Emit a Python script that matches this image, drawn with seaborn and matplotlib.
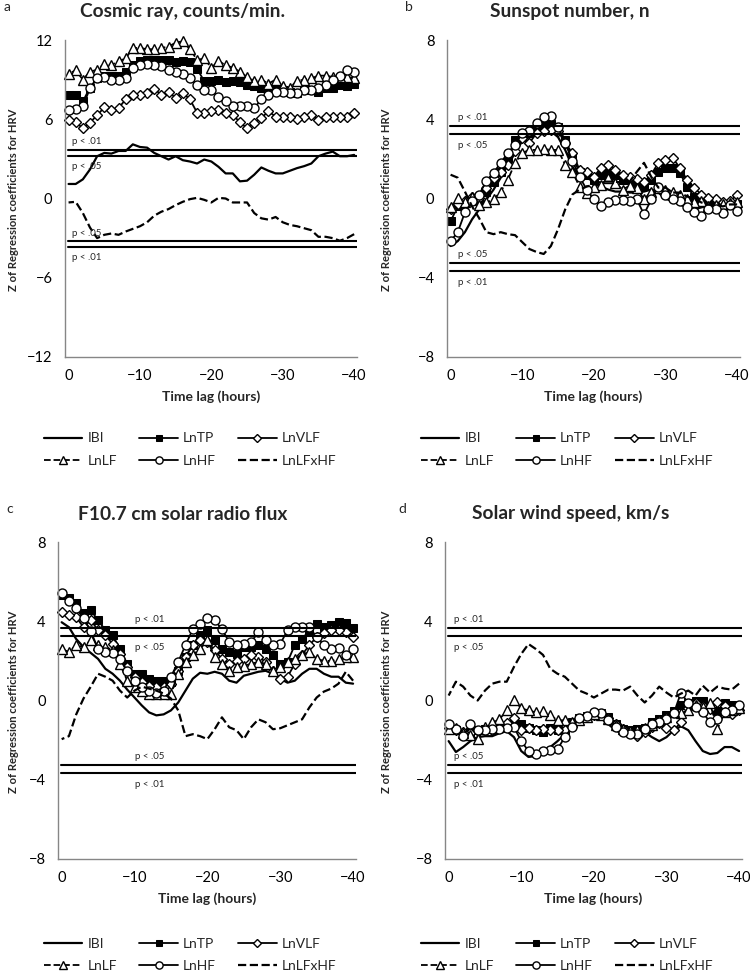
import seaborn as sns
import matplotlib.pyplot as plt

sns.set_style("white")
plt.rcParams['font.family'] = ['Lato', 'DejaVu Sans']

lags = list(range(0, -41, -1))
names = ["IBI", "LnTP", "LnVLF", "LnLF", "LnHF", "LnLFxHF"]

# a - cosmic ray
cr_ibi = [1.1, 1.1, 1.45, 2.2, 3.2, 3.45, 3.4, 3.6, 3.6, 4.1, 3.9, 3.85, 3.45, 3.2, 2.95, 3.2, 2.9, 2.8, 2.65, 2.95,
          2.8, 2.4, 1.9, 1.9, 1.3, 1.35, 1.8, 2.35, 2.1, 1.9, 1.9, 2.1, 2.3, 2.45, 2.65, 3.2, 3.4, 3.55, 3.2, 3.2, 3.3]
cr_tp = [7.85, 7.85, 7.35, 8.4, 9.1, 9.25, 9.3, 9.3, 9.6, 10.1, 10.4, 10.5, 10.5, 10.5, 10.5, 10.3, 10.4, 10.3, 9.8, 8.9,
         8.9, 9.0, 8.8, 8.9, 8.8, 8.6, 8.5, 8.4, 8.3, 8.2, 8.2, 8.1, 8.0, 8.2, 8.2, 8.1, 8.4, 8.4, 8.6, 8.5, 8.7]
cr_vlf = [5.95, 5.8, 5.3, 5.75, 6.3, 6.9, 6.7, 6.85, 7.5, 7.85, 7.85, 8.0, 8.3, 7.85, 8.1, 7.6, 8.0, 7.5, 6.5, 6.5,
          6.6, 6.7, 6.5, 6.3, 5.8, 5.3, 5.7, 6.1, 6.6, 6.2, 6.2, 6.2, 6.0, 6.2, 6.3, 5.95, 6.2, 6.2, 6.2, 6.2, 6.45]
cr_lf = [9.45, 9.7, 9.0, 9.6, 9.75, 10.2, 10.1, 10.4, 10.6, 11.4, 11.4, 11.3, 11.3, 11.4, 11.5, 11.8, 11.9, 11.3, 10.5, 10.6,
         9.9, 10.4, 10.1, 9.9, 9.6, 9.2, 8.9, 9.0, 8.7, 9.0, 8.5, 8.4, 8.9, 9.0, 9.1, 9.3, 9.3, 9.2, 9.2, 9.2, 9.1]
cr_hf = [6.7, 6.75, 6.97, 8.35, 9.1, 9.2, 9.0, 9.0, 9.1, 9.9, 10.1, 10.2, 10.1, 10.0, 9.7, 9.6, 9.45, 9.1, 8.6, 8.2,
         8.2, 7.7, 7.35, 7.0, 6.97, 6.97, 6.85, 7.5, 7.85, 8.1, 8.1, 8.0, 8.0, 8.2, 8.2, 8.4, 8.6, 9.0, 9.3, 9.7, 9.55]
cr_lfhf = [-0.3, -0.25, -1.1, -2.2, -3.0, -2.75, -2.65, -2.75, -2.5, -2.3, -2.1, -1.8, -1.3, -1.0, -0.8, -0.5, -0.25, -0.05,
           0.05, -0.1, -0.3, 0.05, 0.0, -0.3, -0.3, -0.3, -1.1, -1.5, -1.6, -1.4, -1.8, -2.0, -2.1, -2.25, -2.4, -2.9,
           -2.9, -3.0, -3.2, -3.0, -2.7]

# b - sunspot number
ss_ibi = [-2.4, -2.15, -1.7, -1.05, -0.55, -0.05, 0.45, 1.05, 1.7, 2.3, 2.9, 3.1, 3.4, 3.45, 3.4, 3.1, 2.45, 1.6, 1.1,
          1.05, 0.85, 0.6, 0.45, 0.35, 0.35, 0.3, 0.3, 0.35, 0.45, 0.3, 0.0, -0.15, -0.3, -0.45, -0.55, -0.45, -0.35,
          -0.4, -0.4, -0.45, -0.55]
ss_tp = [-1.15, -0.4, -0.25, -0.15, -0.05, 0.35, 0.85, 1.35, 2.05, 2.95, 3.1, 3.3, 3.55, 3.7, 3.75, 3.6, 2.95, 2.05, 1.35,
         1.2, 0.95, 1.2, 1.3, 1.2, 0.95, 0.95, 0.85, 0.65, 0.95, 1.35, 1.55, 1.55, 1.3, 0.6, 0.1, -0.15, -0.2, -0.4,
         -0.4, -0.35, -0.3]
ss_vlf = [-0.55, -0.3, -0.15, 0.1, 0.05, 0.55, 1.05, 1.35, 1.7, 2.4, 3.05, 2.8, 3.3, 3.4, 3.45, 3.4, 2.8, 2.3, 1.45,
          1.35, 1.1, 1.55, 1.7, 1.45, 1.2, 1.1, 1.0, 0.85, 1.2, 1.8, 1.95, 2.05, 1.55, 0.95, 0.55, 0.2, 0.05, -0.05,
          -0.2, -0.15, 0.2]
ss_lf = [-0.45, 0.05, -0.2, 0.1, -0.35, -0.2, -0.05, 0.35, 0.95, 1.8, 2.3, 2.45, 2.45, 2.5, 2.45, 2.45, 1.7, 1.35, 0.6,
         0.3, 0.6, 0.7, 1.05, 0.8, 0.45, 0.65, 0.55, -0.05, 0.35, 0.55, 0.45, 0.35, 0.2, -0.05, -0.2, -0.15, -0.4,
         -0.35, -0.3, -0.25, -0.2]
ss_hf = [-2.15, -1.7, -0.7, -0.15, 0.2, 0.9, 1.3, 1.8, 2.3, 2.7, 3.3, 3.4, 3.8, 4.1, 4.15, 3.6, 2.8, 1.9, 1.1, 0.45,
         -0.05, -0.4, -0.2, -0.1, -0.1, -0.15, -0.05, -0.8, -0.05, 0.6, 0.2, -0.05, -0.15, -0.45, -0.7, -0.9, -0.55,
         -0.55, -0.75, -0.35, -0.65]
ss_lfhf = [1.2, 1.05, 0.35, -0.4, -1.0, -1.7, -1.8, -1.7, -1.8, -1.85, -2.2, -2.55, -2.7, -2.8, -2.4, -1.55, -0.55, 0.2,
           0.45, 0.6, 0.7, 0.85, 0.85, 0.85, 0.8, 0.85, 1.35, 1.8, 1.1, 0.55, 0.55, 0.3, 0.3, 0.1, 0.0, -0.2, -0.3,
           -0.3, -0.4, -0.3, -0.3]

# c - F10.7 solar radio flux
rf_ibi = [3.95, 3.7, 3.1, 2.7, 2.4, 2.1, 1.6, 1.35, 1.0, 0.55, 0.15, -0.25, -0.6, -0.75, -0.7, -0.5, -0.1, 0.5, 1.1, 1.4,
          1.35, 1.45, 1.35, 1.0, 0.9, 1.25, 1.35, 1.45, 1.5, 1.35, 1.1, 0.9, 1.0, 1.35, 1.6, 1.6, 1.35, 1.2, 1.2, 0.9,
          0.85]
rf_tp = [5.3, 5.15, 4.9, 4.4, 4.55, 4.05, 3.55, 3.3, 2.6, 1.85, 1.35, 1.35, 1.1, 1.0, 1.0, 0.95, 1.5, 2.2, 2.8, 3.3,
         3.55, 3.05, 2.6, 2.45, 2.35, 2.7, 2.7, 2.8, 2.6, 2.3, 1.85, 1.95, 2.8, 3.1, 3.55, 3.85, 3.7, 3.8, 3.95, 3.9,
         3.65]
rf_vlf = [4.45, 4.3, 4.2, 3.7, 4.05, 3.55, 3.3, 2.85, 2.35, 1.7, 1.2, 0.95, 0.75, 0.7, 0.7, 0.85, 1.5, 2.2, 2.8, 3.05,
          2.95, 2.55, 2.1, 1.85, 2.0, 2.1, 2.3, 2.2, 1.95, 1.5, 1.1, 1.2, 1.85, 2.3, 2.8, 3.2, 3.4, 3.55, 3.55, 3.45,
          3.2]
rf_lf = [2.6, 2.45, 2.8, 2.7, 3.05, 2.8, 2.7, 2.55, 1.85, 1.0, 0.7, 0.5, 0.35, 0.35, 0.35, 0.35, 1.35, 1.95, 2.3, 2.6,
         3.05, 2.2, 1.85, 1.5, 1.7, 1.75, 1.85, 1.95, 1.85, 1.5, 1.7, 1.95, 2.1, 2.3, 2.45, 2.1, 2.0, 2.0, 2.1, 2.2,
         2.2]
rf_hf = [5.45, 5.0, 4.65, 4.15, 3.5, 2.6, 2.45, 2.4, 2.1, 1.5, 1.0, 0.7, 0.5, 0.4, 0.5, 1.2, 1.95, 2.8, 3.6, 3.85, 4.15,
         4.05, 3.6, 2.95, 2.8, 2.85, 2.95, 3.45, 3.05, 2.8, 2.85, 3.55, 3.7, 3.7, 3.7, 3.2, 2.8, 2.6, 2.65, 2.3, 2.6]
rf_lfhf = [-1.95, -1.8, -0.7, 0.1, 0.7, 1.35, 1.2, 1.0, 0.5, 0.15, 0.5, 0.7, 0.6, 0.5, 0.35, 0.1, -0.5, -1.8, -1.7,
           -1.8, -1.95, -1.45, -0.85, -1.35, -1.5, -1.95, -1.35, -0.95, -1.1, -1.45, -1.4, -1.25, -1.1, -0.95, -0.35,
           0.15, 0.45, 0.6, 0.85, 1.45, 1.0]

# d - solar wind speed
sw_ibi = [-2.05, -2.6, -2.35, -2.05, -1.85, -1.8, -1.8, -1.65, -1.55, -1.85, -2.55, -2.85, -2.8, -2.6, -2.35, -2.05,
          -1.7, -1.25, -1.0, -0.85, -0.75, -0.9, -1.2, -1.5, -1.7, -1.8, -1.7, -1.6, -1.85, -2.05, -1.85, -1.5, -1.3,
          -1.5, -2.05, -2.55, -2.7, -2.65, -2.35, -2.35, -2.55]
sw_tp = [-1.45, -1.5, -1.75, -1.6, -1.5, -1.45, -1.45, -1.4, -1.3, -1.2, -1.2, -1.4, -1.5, -1.6, -1.4, -1.5, -1.6, -1.1,
         -0.9, -0.8, -0.7, -0.65, -0.85, -1.2, -1.45, -1.5, -1.45, -1.4, -1.1, -0.95, -0.75, -0.55, -0.25, -0.15, 0.0,
         -0.05, -0.3, -0.55, -0.15, -0.25, -0.4]
sw_vlf = [-1.4, -1.5, -1.6, -1.65, -1.55, -1.45, -1.5, -1.4, -1.15, -0.9, -1.5, -1.4, -1.5, -1.45, -1.5, -1.5, -1.5,
          -1.2, -1.0, -0.85, -0.75, -0.75, -0.9, -1.2, -1.45, -1.6, -1.8, -1.6, -1.35, -1.15, -1.4, -1.5, -1.1, -0.4,
          -0.15, -0.3, -0.45, -0.1, -0.3, -0.7, -0.5]
sw_lf = [-1.45, -1.4, -1.65, -1.75, -1.95, -1.35, -1.1, -0.95, -0.5, 0.05, -0.4, -0.5, -0.6, -0.55, -0.75, -1.0, -1.0,
         -1.1, -1.0, -0.85, -0.7, -0.75, -0.95, -1.25, -1.45, -1.55, -1.5, -1.4, -1.25, -1.0, -0.85, -0.6, -0.65,
         -0.5, -0.25, -0.35, -0.15, -1.45, -0.6, -0.5, -0.4]
sw_hf = [-1.2, -1.45, -1.8, -1.2, -1.5, -1.5, -1.45, -1.45, -1.4, -1.35, -2.05, -2.55, -2.7, -2.55, -2.5, -2.45, -1.85,
         -1.35, -0.9, -0.8, -0.6, -0.65, -1.0, -1.35, -1.6, -1.7, -1.7, -1.45, -1.2, -1.1, -0.95, -0.65, 0.4, -0.15,
         -0.35, -0.6, -1.1, -0.95, -0.6, -0.5, -0.25]
sw_lfhf = [0.25, 0.95, 0.7, 0.25, 0.0, 0.5, 0.85, 0.95, 0.95, 1.7, 2.35, 2.85, 2.6, 2.3, 1.6, 1.35, 1.2, 0.85, 0.5,
           0.35, 0.15, 0.35, 0.55, 0.55, 0.5, 0.7, 0.25, -0.1, 0.25, 0.7, 0.4, 0.15, 0.35, 0.5, 0.25, 0.75, 0.4, 0.7,
           0.6, 0.55, 0.85]

p05 = 3.25
p01 = 3.66

styles = {
    "IBI": dict(ls="-", lw=1.6),
    "LnTP": dict(ls="-", lw=1.3, marker="s", ms=5.5, mfc="black", mec="black"),
    "LnVLF": dict(ls="-", lw=1.3, marker="D", ms=5, mfc="white", mec="black", mew=1),
    "LnLF": dict(ls="--", lw=1.3, marker="^", ms=6.5, mfc="white", mec="black", mew=1),
    "LnHF": dict(ls="-", lw=1.3, marker="o", ms=6.5, mfc="white", mec="black", mew=1),
    "LnLFxHF": dict(ls="--", lw=1.6, dashes=(3, 2)),
}

grey = "#868686"


def panel(rect, series, lim, step, title, letter, title_x, top_px, ylab_x, lab_lag, leg_x, leg_y, letter_x):
    ax = fig.add_axes(rect)
    for name, vals in zip(names, series):
        sns.lineplot(x=lags, y=vals, ax=ax, color="black", label=name, clip_on=False, **styles[name])
    for v in (p05, p01):
        ax.axhline(v, color="black", lw=1.5, xmin=0.01)
        ax.axhline(-v, color="black", lw=1.5, xmin=0.01)
    kw = dict(fontsize=7, ha="left", va="center", textcoords="offset points")
    ax.annotate("p < .01", (lab_lag, p01), xytext=(0, 6), **kw)
    ax.annotate("p < .05", (lab_lag, p05), xytext=(0, -8), **kw)
    ax.annotate("p < .05", (lab_lag, -p05), xytext=(0, 6), **kw)
    ax.annotate("p < .01", (lab_lag, -p01), xytext=(0, -8), **kw)

    ax.set_xlim(0.5, -40.4)
    ax.set_ylim(-lim, lim)
    ax.set_xticks([0, -10, -20, -30, -40])
    ax.set_yticks(range(-lim, lim + 1, step))
    sns.despine(ax=ax)
    for s in ("left", "bottom"):
        ax.spines[s].set_color(grey)
        ax.spines[s].set_linewidth(1)
    ax.tick_params(axis="both", colors=grey, labelcolor="black", labelsize=10.5, length=4, width=1, pad=5)
    ax.set_xlabel("Time lag (hours)", fontsize=10, fontweight="bold", labelpad=5)
    ax.set_ylabel("")

    fig.text(ylab_x / 750, 1 - (top_px + 160) / 975, "Z of Regression coefficients for HRV", rotation=90,
             fontsize=8.1, fontweight="bold", ha="center", va="center")
    fig.text(title_x / 750, 1 - (top_px - 28) / 975, title, fontsize=13.8, fontweight="bold", ha="center", va="center")
    fig.text(letter_x / 750, 1 - (top_px - 33) / 975, letter, fontsize=10, ha="center", va="center")

    h, l = ax.get_legend_handles_labels()
    order = [0, 3, 1, 4, 2, 5]
    ax.legend([h[i] for i in order], [l[i] for i in order], ncol=3, frameon=False, fontsize=10,
              loc="upper center", bbox_to_anchor=(leg_x / 750, 1 - leg_y / 975), bbox_transform=fig.transFigure,
              handlelength=2.8, handletextpad=0.35, columnspacing=1.6, labelspacing=0.75, markerscale=0.8)
    return ax


fig = plt.figure(figsize=(7.5, 9.75), dpi=100)

panel([65 / 750, 1 - 357 / 975, 292 / 750, 317 / 975],
      [cr_ibi, cr_tp, cr_vlf, cr_lf, cr_hf, cr_lfhf], 12, 6,
      "Cosmic ray, counts/min.", "a", 183, 40, 14, -0.5, 190, 420, 7)
panel([447 / 750, 1 - 357 / 975, 293 / 750, 317 / 975],
      [ss_ibi, ss_tp, ss_vlf, ss_lf, ss_hf, ss_lfhf], 8, 4,
      "Sunspot number, n", "b", 570, 40, 387, -1.0, 567, 420, 409)
panel([58 / 750, 1 - 859 / 975, 298 / 750, 317 / 975],
      [rf_ibi, rf_tp, rf_vlf, rf_lf, rf_hf, rf_lfhf], 8, 4,
      "F10.7 cm solar radio flux", "c", 183, 542, 14, -10.0, 190, 925, 10)
panel([445 / 750, 1 - 859 / 975, 297 / 750, 317 / 975],
      [sw_ibi, sw_tp, sw_vlf, sw_lf, sw_hf, sw_lfhf], 8, 4,
      "Solar wind speed, km/s", "d", 571, 542, 387, -0.8, 567, 925, 402)

fig.savefig("out.png", dpi=100)
